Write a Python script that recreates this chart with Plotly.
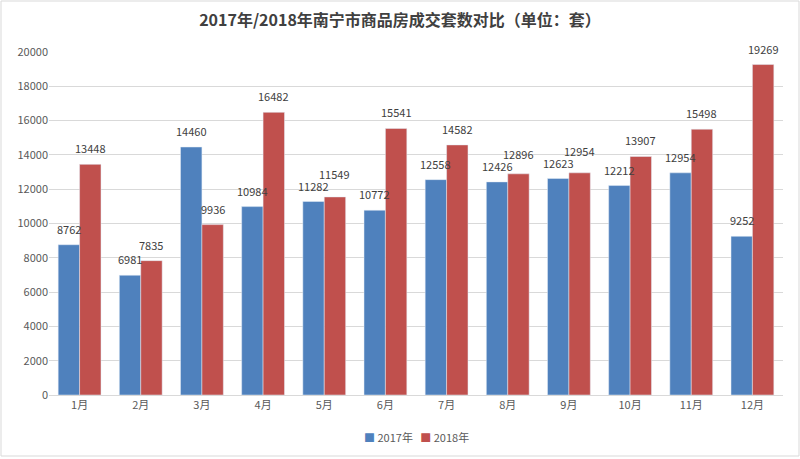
import plotly.graph_objects as go

months = ["1月", "2月", "3月", "4月", "5月", "6月", "7月", "8月", "9月", "10月", "11月", "12月"]
y2017 = [8762, 6981, 14460, 10984, 11282, 10772, 12558, 12426, 12623, 12212, 12954, 9252]
y2018 = [13448, 7835, 9936, 16482, 11549, 15541, 14582, 12896, 12954, 13907, 15498, 19269]
yticks = list(range(0, 20001, 2000))

W, H = 800, 459
ml, mr, mt, mb = 49, 17, 52, 64
pw, ph = W - ml - mr, H - mt - mb
ymax = 20000
k = ph / ymax  # pixels per unit
bargap = 0.3
catw = pw / len(months)
off = catw * (1 - bargap) / 4  # half bar width offset
BLUE, RED = "#4F81BD", "#C0504D"
lab_font = dict(size=11, color="#404040", family="Noto Sans CJK SC, sans-serif")

fig = go.Figure()
fig.add_bar(x=months, y=y2017, name="2017年", marker_color=BLUE, showlegend=False)
fig.add_bar(x=months, y=y2018, name="2018年", marker_color=RED, showlegend=False)

annotations = []
base = 6
for m, vb, vr in zip(months, y2017, y2018):
    sb, sr = base, base
    if abs(vb - vr) * k < 14:
        if vr >= vb:
            sr = max(base, (vb - vr) * k + base + 12)
        else:
            sb = max(base, (vr - vb) * k + base + 12)
    annotations.append(dict(x=m, y=vb, text=str(vb), showarrow=False, xshift=-off, yshift=sb,
                            yanchor="bottom", font=lab_font))
    annotations.append(dict(x=m, y=vr, text=str(vr), showarrow=False, xshift=off, yshift=sr,
                            yanchor="bottom", font=lab_font))

nb = "\u00a0"
annotations.append(dict(xref="paper", yref="paper", x=0.5, y=-(437 - 395) / ph, xanchor="center",
                        yanchor="middle", showarrow=False,
                        text=f"<span style='color:{BLUE}'>■</span>{nb}2017年{nb*3}"
                             f"<span style='color:{RED}'>■</span>{nb}2018年",
                        font=dict(size=11, color="#595959", family="Noto Sans CJK SC, sans-serif")))

fig.update_layout(
    width=W, height=H,
    margin=dict(l=ml, r=mr, t=mt, b=mb, autoexpand=False),
    paper_bgcolor="white", plot_bgcolor="white",
    font=dict(family="Noto Sans CJK SC, Liberation Sans, sans-serif", size=11, color="#595959"),
    title=dict(text="<b>2017年/2018年南宁市商品房成交套数对比（单位：套）</b>",
               x=0.5, xanchor="center", y=1 - 20 / H, yanchor="middle",
               font=dict(size=16, color="#404040", family="Noto Sans CJK SC, sans-serif")),
    barmode="group", bargap=bargap, bargroupgap=0,
    showlegend=False,
    annotations=annotations,
    xaxis=dict(showline=True, linecolor="#D9D9D9", ticks="", tickfont=dict(size=11, color="#595959")),
    yaxis=dict(range=[0, ymax], tickvals=yticks, ticktext=[str(v) for v in yticks],
               showgrid=True, gridcolor="#D9D9D9",
               zeroline=False, showline=False, ticks="", tickfont=dict(size=11, color="#595959")),
    shapes=[dict(type="rect", xref="paper", yref="paper",
                 x0=-(ml - 1) / pw, x1=1 + (mr - 1) / pw, y0=-(mb - 3) / ph, y1=1 + (mt - 1) / ph,
                 line=dict(color="#D9D9D9", width=1))],
)

fig.write_html("out.html")
